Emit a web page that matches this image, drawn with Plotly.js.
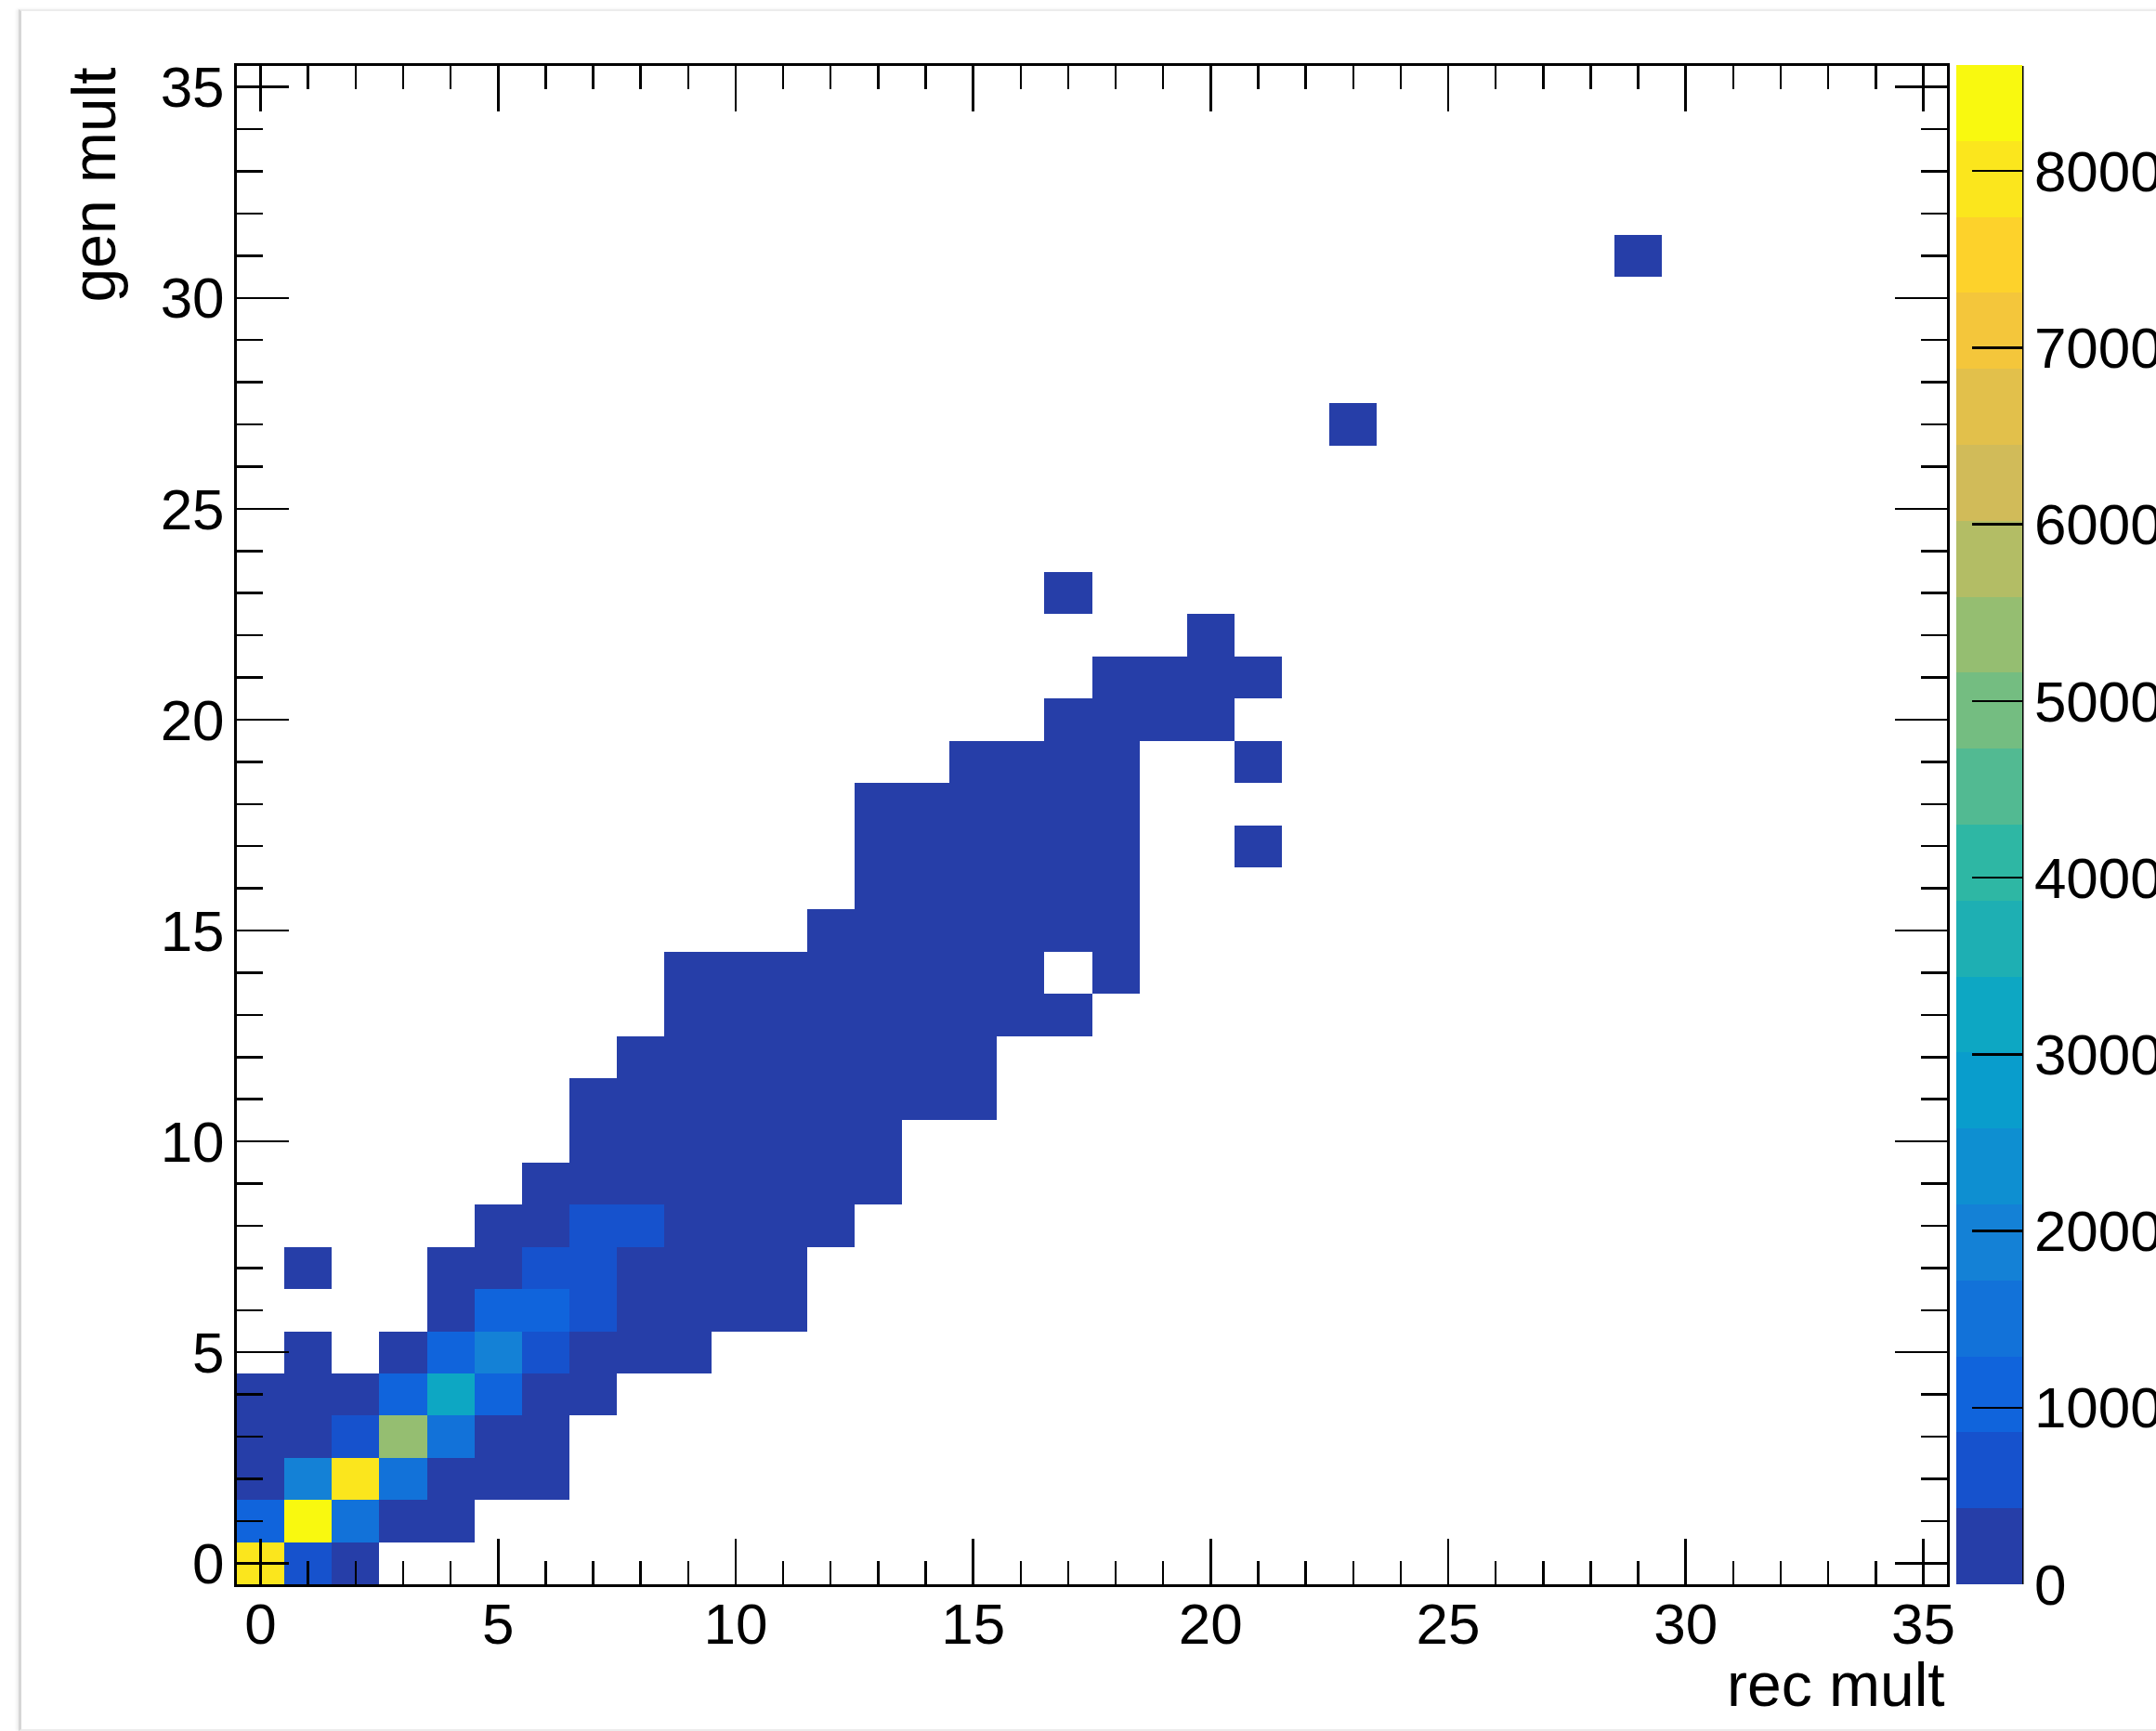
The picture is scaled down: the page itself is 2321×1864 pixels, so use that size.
<!DOCTYPE html>
<html>
<head>
<meta charset="utf-8">
<script src="https://cdn.plot.ly/plotly-3.0.1.min.js"></script>
<style>
  html, body { margin: 0; padding: 0; background: #ffffff; overflow: hidden; }
  #frame {
    position: absolute; left: 20px; top: 10px; width: 2600px; height: 1850px;
    border-left: 3px solid #d6d6d6; border-top: 2px solid #ececec; border-bottom: 2px solid #ececec;
    box-shadow: -2px 0 3px #ececec;
  }
  #chart { position: absolute; left: 0; top: 0; width: 2700px; height: 1864px; }
</style>
</head>
<body>
<div id="frame"></div>
<div id="chart"></div>
<script>
// Bin centres of the two multiplicity axes (one bin per unit, 0..35)
const recBins = [0,1,2,3,4,5,6,7,8,9,10,11,12,13,14,15,16,17,18,19,20,21,22,23,24,25,26,27,28,29,30,31,32,33,34,35];
const genBins = [0,1,2,3,4,5,6,7,8,9,10,11,12,13,14,15,16,17,18,19,20,21,22,23,24,25,26,27,28,29,30,31,32,33,34,35];

// Filled bins of the response matrix: reconstructed bin, generated bin, entries
const cellRec = [
  0,1,2,
  0,1,2,3,4,
  0,1,2,3,4,5,6,
  0,1,2,3,4,5,6,
  0,1,2,3,4,5,6,7,
  1,3,4,5,6,7,8,9,
  4,5,6,7,8,9,10,11,
  1,4,5,6,7,8,9,10,11,
  5,6,7,8,9,10,11,12,
  6,7,8,9,10,11,12,13,
  7,8,9,10,11,12,13,
  7,8,9,10,11,12,13,14,15,
  8,9,10,11,12,13,14,15,
  9,10,11,12,13,14,15,16,17,
  9,10,11,12,13,14,15,16,18,
  12,13,14,15,16,17,18,
  13,14,15,16,17,18,
  13,14,15,16,17,18,21,
  13,14,15,16,17,18,
  15,16,17,18,21,
  17,18,19,20,
  18,19,20,21,
  20,
  17,
  23,
  29
];
const cellGen = [
  0,0,0,
  1,1,1,1,1,
  2,2,2,2,2,2,2,
  3,3,3,3,3,3,3,
  4,4,4,4,4,4,4,4,
  5,5,5,5,5,5,5,5,
  6,6,6,6,6,6,6,6,
  7,7,7,7,7,7,7,7,7,
  8,8,8,8,8,8,8,8,
  9,9,9,9,9,9,9,9,
  10,10,10,10,10,10,10,
  11,11,11,11,11,11,11,11,11,
  12,12,12,12,12,12,12,12,
  13,13,13,13,13,13,13,13,13,
  14,14,14,14,14,14,14,14,14,
  15,15,15,15,15,15,15,
  16,16,16,16,16,16,
  17,17,17,17,17,17,17,
  18,18,18,18,18,18,
  19,19,19,19,19,
  20,20,20,20,
  21,21,21,21,
  22,
  23,
  27,
  31
];
const cellCount = [
  7950,640,120,
  1050,8600,1500,310,40,
  260,1930,7900,1560,330,90,20,
  110,380,700,5380,1520,400,120,
  30,70,290,1080,3250,1100,360,80,
  10,60,1010,1880,780,300,130,30,
  20,1000,980,560,280,130,40,10,
  5,8,90,480,600,380,210,90,20,
  10,100,450,470,320,180,60,15,
  8,60,260,370,300,170,60,12,
  20,160,300,330,220,90,20,
  5,60,190,290,260,140,50,10,3,
  20,110,220,240,170,80,20,5,
  40,120,190,180,110,40,10,3,1,
  10,50,120,150,120,60,20,5,1,
  80,110,90,40,12,3,1,
  60,70,50,20,6,2,
  20,40,40,20,8,2,1,
  5,15,20,15,6,2,
  8,10,6,3,1,
  3,4,2,1,
  2,2,1,1,
  1,
  1,
  1,
  1
];

// Colour axis: 20 equal contours from 0 to the maximum bin content
const zMax = 8600;
const nContours = 20;
const colorTicks = [0,1000,2000,3000,4000,5000,6000,7000,8000];

// "Bird" gradient palette (255 shades), sampled once per contour
function birdPalette() {
  const stops = [0.0, 0.125, 0.25, 0.375, 0.5, 0.625, 0.75, 0.875, 1.0];
  const red   = [0.2082, 0.0592, 0.0780, 0.0232, 0.1802, 0.5301, 0.8186, 0.9956, 0.9764];
  const green = [0.1664, 0.3599, 0.5041, 0.6419, 0.7178, 0.7492, 0.7328, 0.7862, 0.9832];
  const blue  = [0.5293, 0.8684, 0.8385, 0.7914, 0.6425, 0.4662, 0.3499, 0.1968, 0.0539];
  const n = 255, table = [];
  for (let g = 1; g < stops.length; g++) {
    const nc = Math.floor(n * stops[g]) - Math.floor(n * stops[g - 1]);
    for (let c = 0; c < nc; c++) {
      table.push([
        red[g-1]   + c * (red[g]   - red[g-1])   / nc,
        green[g-1] + c * (green[g] - green[g-1]) / nc,
        blue[g-1]  + c * (blue[g]  - blue[g-1])  / nc
      ]);
    }
  }
  return table;
}
const palette = birdPalette();
const colorscale = [];
for (let k = 0; k < nContours; k++) {
  const idx = Math.min(palette.length - 1, Math.floor((k + 0.99) * palette.length / nContours));
  const c = palette[idx].map(v => Math.round(v * 255));
  const col = `rgb(${c[0]},${c[1]},${c[2]})`;
  colorscale.push([k / nContours, col]);
  colorscale.push([(k + 1) / nContours, col]);
}

// Fill the matrix; empty bins stay blank
const z = genBins.map(() => recBins.map(() => null));
for (let n = 0; n < cellCount.length; n++) {
  z[genBins.indexOf(cellGen[n])][recBins.indexOf(cellRec[n])] = cellCount[n];
}

const FONT = 'Liberation Sans, Arial, Helvetica, sans-serif';
// Drawing surface is wider than the window so the colour-bar labels run off the right edge
const W = 2700, H = 1864;
const plotL = 255, plotR = 2096, plotT = 71, plotB = 1706;
const pw = plotR - plotL, ph = plotB - plotT;
const barL = 2106, barR = 2177;

const axisCommon = {
  range: [-0.5, 35.5],
  tickmode: 'array',
  tickvals: [0, 5, 10, 15, 20, 25, 30, 35],
  ticks: 'inside',
  tickwidth: 2.5,
  tickcolor: '#000',
  showline: true,
  linecolor: '#000',
  linewidth: 3,
  mirror: 'allticks',
  showgrid: false,
  zeroline: false,
  automargin: false,
  tickfont: { family: FONT, size: 62, color: '#000' },
  fixedrange: true
};

const trace = {
  type: 'heatmap',
  x: recBins,
  y: genBins,
  z: z,
  zmin: 0,
  zmax: zMax,
  colorscale: colorscale,
  zsmooth: false,
  hoverongaps: false,
  colorbar: {
    thickness: barR - barL,
    thicknessmode: 'pixels',
    len: ph + 1,
    lenmode: 'pixels',
    x: (barL - plotL) / pw,
    xanchor: 'left',
    xpad: 0,
    y: 0,
    yanchor: 'bottom',
    ypad: 0,
    outlinewidth: 0,
    tickmode: 'array',
    tickvals: colorTicks,
    ticktext: colorTicks.map(String),
    ticks: 'inside',
    ticklen: 54,
    tickwidth: 2.5,
    tickcolor: '#000',
    tickfont: { family: FONT, size: 62, color: '#000' }
  }
};

const layout = {
  width: W,
  height: H,
  margin: { l: plotL, r: W - plotR, t: plotT, b: H - plotB, pad: 0, autoexpand: false },
  paper_bgcolor: 'rgba(0,0,0,0)',
  plot_bgcolor: '#ffffff',
  showlegend: false,
  xaxis: Object.assign({}, axisCommon, {
    ticklen: 49,
    ticklabelstandoff: -13,
    minor: { dtick: 1, ticks: 'inside', ticklen: 25, tickwidth: 2.5, tickcolor: '#000' }
  }),
  yaxis: Object.assign({}, axisCommon, {
    ticklen: 56,
    ticklabelstandoff: -2,
    minor: { dtick: 1, ticks: 'inside', ticklen: 28, tickwidth: 2.5, tickcolor: '#000' }
  }),
  shapes: [
    // axis line on the right side of the colour bar
    { type: 'line', xref: 'paper', yref: 'paper',
      x0: (barR - plotL) / pw, x1: (barR - plotL) / pw, y0: 0, y1: 1,
      line: { color: '#000', width: 3 } }
  ],
  annotations: [
    { text: 'rec mult', xref: 'paper', yref: 'paper',
      x: 1, xanchor: 'right', y: (plotB - 1814) / ph, yanchor: 'middle',
      showarrow: false, font: { family: FONT, size: 66, color: '#000' } },
    { text: 'gen mult', xref: 'paper', yref: 'paper', textangle: -90,
      x: (100 - plotL) / pw, xanchor: 'center', y: 1, yanchor: 'top',
      showarrow: false, font: { family: FONT, size: 66, color: '#000' } }
  ]
};

Plotly.newPlot('chart', [trace], layout, { staticPlot: true, displayModeBar: false });
</script>
</body>
</html>
